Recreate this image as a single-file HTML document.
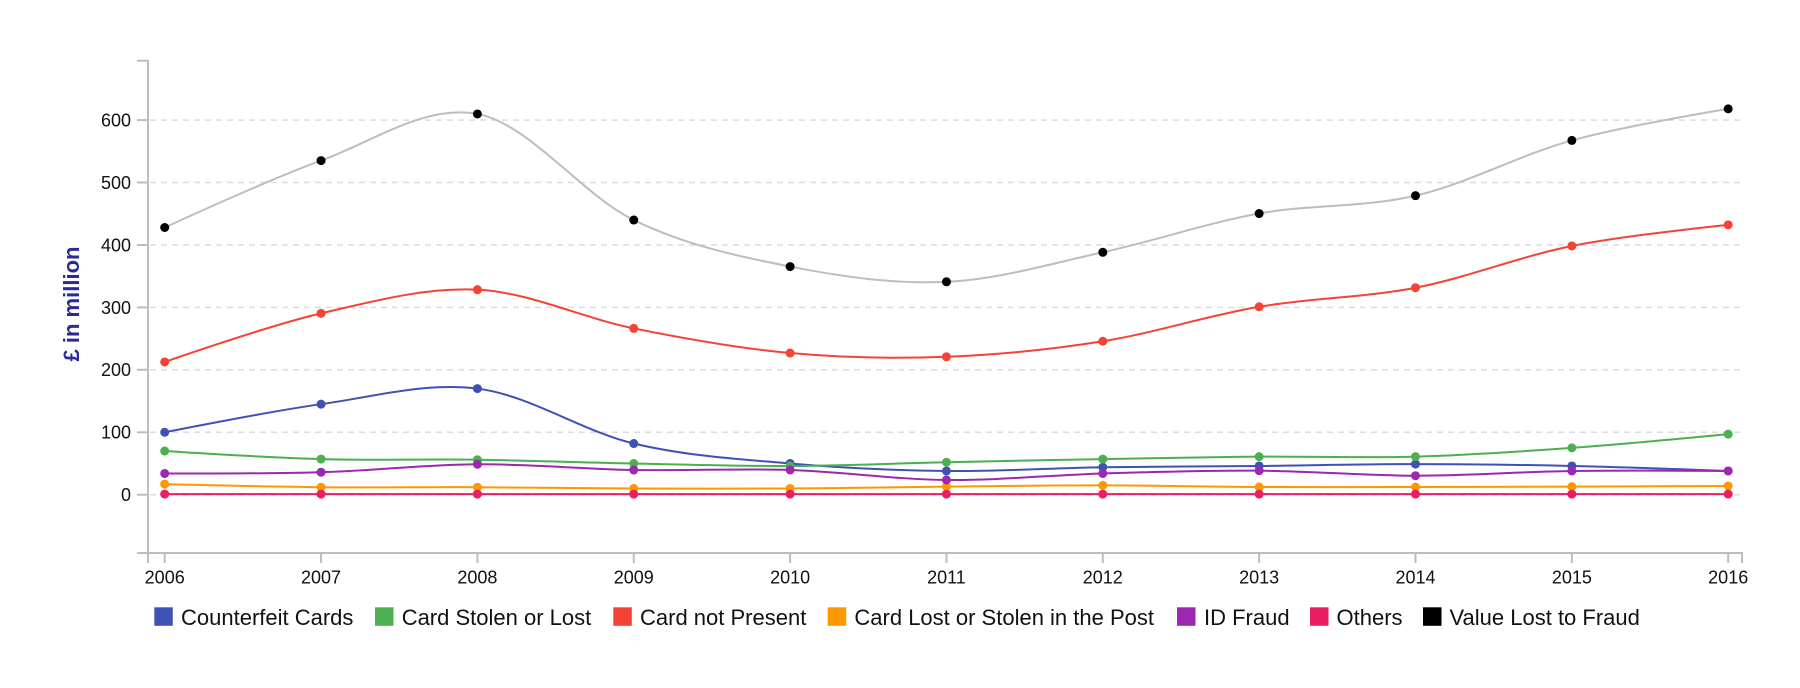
<!DOCTYPE html>
<html>
<head>
<meta charset="utf-8">
<style>
  html, body { margin:0; padding:0; background:#fff; }
  body { width:1800px; height:688px; overflow:hidden; }
  svg { display:block; font-family:"Liberation Sans", Arial, Helvetica, sans-serif; }
  .grid { stroke:#dcdcdc; stroke-width:1.5; stroke-dasharray:6 5; }
  .axis { stroke:#bdbdbd; stroke-width:2; fill:none; }
  .ylab { font-size:18px; fill:#111; text-anchor:end; }
  .xlab { font-size:18px; fill:#111; text-anchor:middle; }
  .leg { font-size:22px; fill:#111; }
</style>
</head>
<body>
<svg id="chart" width="1800" height="688" viewBox="0 0 1800 688" xmlns="http://www.w3.org/2000/svg">
  <rect x="0" y="0" width="1800" height="688" fill="#fff"/>

  <!-- gridlines -->
  <g>
    <line class="grid" x1="150" x2="1742" y1="494.7" y2="494.7"/>
    <line class="grid" x1="150" x2="1742" y1="432.3" y2="432.3"/>
    <line class="grid" x1="150" x2="1742" y1="369.8" y2="369.8"/>
    <line class="grid" x1="150" x2="1742" y1="307.4" y2="307.4"/>
    <line class="grid" x1="150" x2="1742" y1="245.0" y2="245.0"/>
    <line class="grid" x1="150" x2="1742" y1="182.5" y2="182.5"/>
    <line class="grid" x1="150" x2="1742" y1="120.1" y2="120.1"/>
  </g>

  <!-- y axis -->
  <path class="axis" d="M137,60.7 H148 V553 H137"/>
  <g class="axis">
    <line x1="137" x2="148" y1="494.7" y2="494.7"/>
    <line x1="137" x2="148" y1="432.3" y2="432.3"/>
    <line x1="137" x2="148" y1="369.8" y2="369.8"/>
    <line x1="137" x2="148" y1="307.4" y2="307.4"/>
    <line x1="137" x2="148" y1="245.0" y2="245.0"/>
    <line x1="137" x2="148" y1="182.5" y2="182.5"/>
    <line x1="137" x2="148" y1="120.1" y2="120.1"/>
  </g>
  <g>
    <text class="ylab" x="131" y="501.1">0</text>
    <text class="ylab" x="131" y="438.7">100</text>
    <text class="ylab" x="131" y="376.2">200</text>
    <text class="ylab" x="131" y="313.8">300</text>
    <text class="ylab" x="131" y="251.4">400</text>
    <text class="ylab" x="131" y="188.9">500</text>
    <text class="ylab" x="131" y="126.5">600</text>
  </g>
  <text x="0" y="0" transform="translate(79,304) rotate(-90)" text-anchor="middle" font-size="22" font-weight="bold" fill="#2a2a98">£ in million</text>

  <!-- x axis -->
  <path class="axis" d="M148,563 V553 H1742 V563"/>
  <g class="axis">
    <line x1="164.7" x2="164.7" y1="553" y2="563"/>
    <line x1="321.05" x2="321.05" y1="553" y2="563"/>
    <line x1="477.4" x2="477.4" y1="553" y2="563"/>
    <line x1="633.75" x2="633.75" y1="553" y2="563"/>
    <line x1="790.1" x2="790.1" y1="553" y2="563"/>
    <line x1="946.45" x2="946.45" y1="553" y2="563"/>
    <line x1="1102.8" x2="1102.8" y1="553" y2="563"/>
    <line x1="1259.15" x2="1259.15" y1="553" y2="563"/>
    <line x1="1415.5" x2="1415.5" y1="553" y2="563"/>
    <line x1="1571.85" x2="1571.85" y1="553" y2="563"/>
    <line x1="1728.2" x2="1728.2" y1="553" y2="563"/>
  </g>
  <g>
    <text class="xlab" x="164.7" y="583.3">2006</text>
    <text class="xlab" x="321.05" y="583.3">2007</text>
    <text class="xlab" x="477.4" y="583.3">2008</text>
    <text class="xlab" x="633.75" y="583.3">2009</text>
    <text class="xlab" x="790.1" y="583.3">2010</text>
    <text class="xlab" x="946.45" y="583.3">2011</text>
    <text class="xlab" x="1102.8" y="583.3">2012</text>
    <text class="xlab" x="1259.15" y="583.3">2013</text>
    <text class="xlab" x="1415.5" y="583.3">2014</text>
    <text class="xlab" x="1571.85" y="583.3">2015</text>
    <text class="xlab" x="1728.2" y="583.3">2016</text>
  </g>

  <!-- series -->
  <g id="series"></g>

  <!-- legend -->
  <g>
    <rect x="154.3" y="607.3" width="18.5" height="18.5" fill="#3f51b5"/>
    <text class="leg" x="181" y="625">Counterfeit Cards</text>
    <rect x="375" y="607.3" width="18.5" height="18.5" fill="#4caf50"/>
    <text class="leg" x="401.7" y="625">Card Stolen or Lost</text>
    <rect x="613.3" y="607.3" width="18.5" height="18.5" fill="#f44336"/>
    <text class="leg" x="640" y="625">Card not Present</text>
    <rect x="827.7" y="607.3" width="18.5" height="18.5" fill="#ff9800"/>
    <text class="leg" x="854.4" y="625">Card Lost or Stolen in the Post</text>
    <rect x="1177" y="607.3" width="18.5" height="18.5" fill="#9c27b0"/>
    <text class="leg" x="1204" y="625">ID Fraud</text>
    <rect x="1310" y="607.3" width="18.5" height="18.5" fill="#e91e63"/>
    <text class="leg" x="1336.5" y="625">Others</text>
    <rect x="1423" y="607.3" width="18.5" height="18.5" fill="#000"/>
    <text class="leg" x="1449.5" y="625">Value Lost to Fraud</text>
  </g>
</svg>

<script>
(function(){
  var X0 = 164.7, DX = 156.35, Y0 = 494.7, S = 0.6243;
  var series = [
    {c:"#3f51b5", line:"#3f51b5", v:[100,145,170,82,50,38,44,46,49,46,38]},
    {c:"#4caf50", line:"#4caf50", v:[70,57,56,50,46,52,57,61,61,75,97]},
    {c:"#f44336", line:"#f44336", v:[212.6,290.5,328.4,266.4,226.9,220.9,245.8,301.0,331.5,398.4,432.3]},
    {c:"#ff9800", line:"#ff9800", v:[17,12,12,10,10,13,15,12.3,12.3,13,14]},
    {c:"#9c27b0", line:"#9c27b0", v:[34,36,48.7,39.6,39.6,23.6,34,38.5,30.4,38,38]},
    {c:"#e91e63", line:"#e91e63", v:[1,1,1,1,1,1,1,1,1,1,1]},
    {c:"#000000", line:"#bdbdbd", v:[428.0,535.2,609.9,440.0,365.4,341.0,388.3,450.4,479.0,567.5,618.0]}
  ];
  var NS = "http://www.w3.org/2000/svg";
  var g = document.getElementById("series");
  function f(n){ return n.toFixed(2); }
  series.forEach(function(s){
    var p = s.v.map(function(v,i){ return [X0 + i*DX, Y0 - v*S]; });
    var n = p.length, k = 1/6;
    var d = "M" + f(p[0][0]) + "," + f(p[0][1]);
    for (var i = 0; i < n-1; i++) {
      var a = p[i], b = p[i+1];
      var c1, c2;
      if (i === 0) { c1 = a; }
      else { var pr = p[i-1]; c1 = [a[0] + k*(b[0]-pr[0]), a[1] + k*(b[1]-pr[1])]; }
      if (i === n-2) { c2 = b; }
      else { var nx = p[i+2]; c2 = [b[0] - k*(nx[0]-a[0]), b[1] - k*(nx[1]-a[1])]; }
      d += "C" + f(c1[0]) + "," + f(c1[1]) + " " + f(c2[0]) + "," + f(c2[1]) + " " + f(b[0]) + "," + f(b[1]);
    }
    var path = document.createElementNS(NS, "path");
    path.setAttribute("d", d);
    path.setAttribute("fill", "none");
    path.setAttribute("stroke", s.line);
    path.setAttribute("stroke-width", "2");
    g.appendChild(path);
    p.forEach(function(pt){
      var c = document.createElementNS(NS, "circle");
      c.setAttribute("cx", f(pt[0]));
      c.setAttribute("cy", f(pt[1]));
      c.setAttribute("r", "4.5");
      c.setAttribute("fill", s.c);
      g.appendChild(c);
    });
  });
})();
</script>
</body>
</html>
